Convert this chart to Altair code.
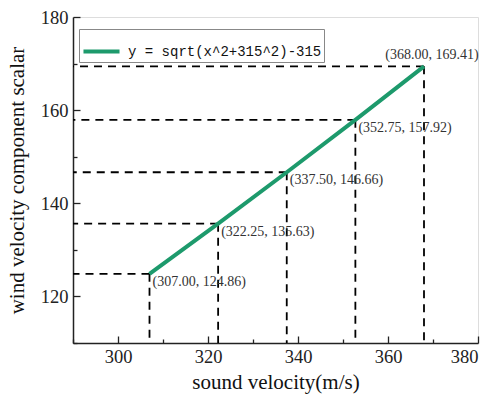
import altair as alt
import pandas as pd

xs = [307.00, 322.25, 337.50, 352.75, 368.00]
ys = [124.86, 135.63, 146.66, 157.92, 169.41]
labels = ["(307.00, 124.86)", "(322.25, 135.63)", "(337.50, 146.66)",
          "(352.75, 157.92)", "(368.00, 169.41)"]
series_name = "y = sqrt(x^2+315^2)-315"
x_ticks = [290, 300, 310, 320, 330, 340, 350, 360, 370, 380]
y_ticks = [110, 120, 130, 140, 150, 160, 170, 180]

df = pd.DataFrame({"x": xs, "y": ys, "label": labels, "series": series_name})

W, H = 405, 326
GREEN = "#1d9a6c"
SERIF = "Liberation Serif"

xscale = alt.Scale(domain=[290, 380], nice=False, zero=False)
yscale = alt.Scale(domain=[110, 180], nice=False, zero=False)

xaxis = alt.Axis(
    values=x_ticks, title="sound velocity(m/s)",
    labelExpr="datum.value % 20 === 0 && datum.value != 290 ? datum.label : ''",
    tickSize={"condition": {"test": "datum.value % 20 === 0", "value": -7}, "value": -4},
    labelPadding=11, labelFont=SERIF, labelFontSize=18.5, labelColor="#222",
    titleFont=SERIF, titleFontSize=21, titleFontWeight="normal", titleColor="#111",
    titlePadding=6, domainColor="#222", domainWidth=1.5, tickColor="#222",
    tickWidth=1.3, grid=False,
)
yaxis = alt.Axis(
    values=y_ticks, title="wind velocity component scalar",
    labelExpr="datum.value % 20 === 0 ? datum.label : ''",
    tickSize={"condition": {"test": "datum.value % 20 === 0", "value": -7}, "value": -4},
    labelPadding=12, labelFont=SERIF, labelFontSize=18.5, labelColor="#222",
    titleFont=SERIF, titleFontSize=21, titleFontWeight="normal", titleColor="#111",
    titlePadding=13, domainColor="#222", domainWidth=1.5, tickColor="#222",
    tickWidth=1.3, grid=False,
)

base = alt.Chart(df)

hrules = base.mark_rule(color="black", strokeDash=[8, 6], strokeWidth=1.8).encode(
    x=alt.X("x:Q", scale=xscale, axis=xaxis), x2=alt.value(0),
    y=alt.Y("y:Q", scale=yscale, axis=yaxis)
)
vrules = base.mark_rule(color="black", strokeDash=[8, 6], strokeWidth=1.8).encode(
    x=alt.X("x:Q", scale=xscale), y=alt.Y("y:Q", scale=yscale), y2=alt.value(H)
)

line = base.mark_line(strokeWidth=4).encode(
    x=alt.X("x:Q", scale=xscale),
    y=alt.Y("y:Q", scale=yscale),
    color=alt.Color("series:N", scale=alt.Scale(range=[GREEN]),
                    legend=alt.Legend(
                        title=None, orient="none", legendX=6, legendY=12,
                        symbolType="stroke", symbolStrokeWidth=4, symbolSize=1300,
                        labelFont="Liberation Mono", labelFontSize=14, labelColor="#111",
                        strokeColor="#888", fillColor="white", padding=2,
                        labelLimit=400, labelOffset=6,
                    )),
)

text_main = alt.Chart(df.iloc[:4]).mark_text(
    align="left", baseline="middle", dx=3, dy=8, font=SERIF, fontSize=14, color="#333"
).encode(x=alt.X("x:Q", scale=xscale), y=alt.Y("y:Q", scale=yscale), text="label:N")

text_last = alt.Chart(df.iloc[4:]).mark_text(
    align="center", baseline="middle", dx=8, dy=-11, font=SERIF, fontSize=14, color="#333"
).encode(x=alt.X("x:Q", scale=xscale), y=alt.Y("y:Q", scale=yscale), text="label:N")

chart = alt.layer(hrules, vrules, line, text_main, text_last).properties(
    width=W, height=H,
    autosize=alt.AutoSizeParams(type="none"),
    padding={"left": 73, "top": 17, "right": 16, "bottom": 55},
).configure_view(stroke=None).configure(background="white")

chart.save("out.html", embed_options={"renderer": "svg", "actions": False})
